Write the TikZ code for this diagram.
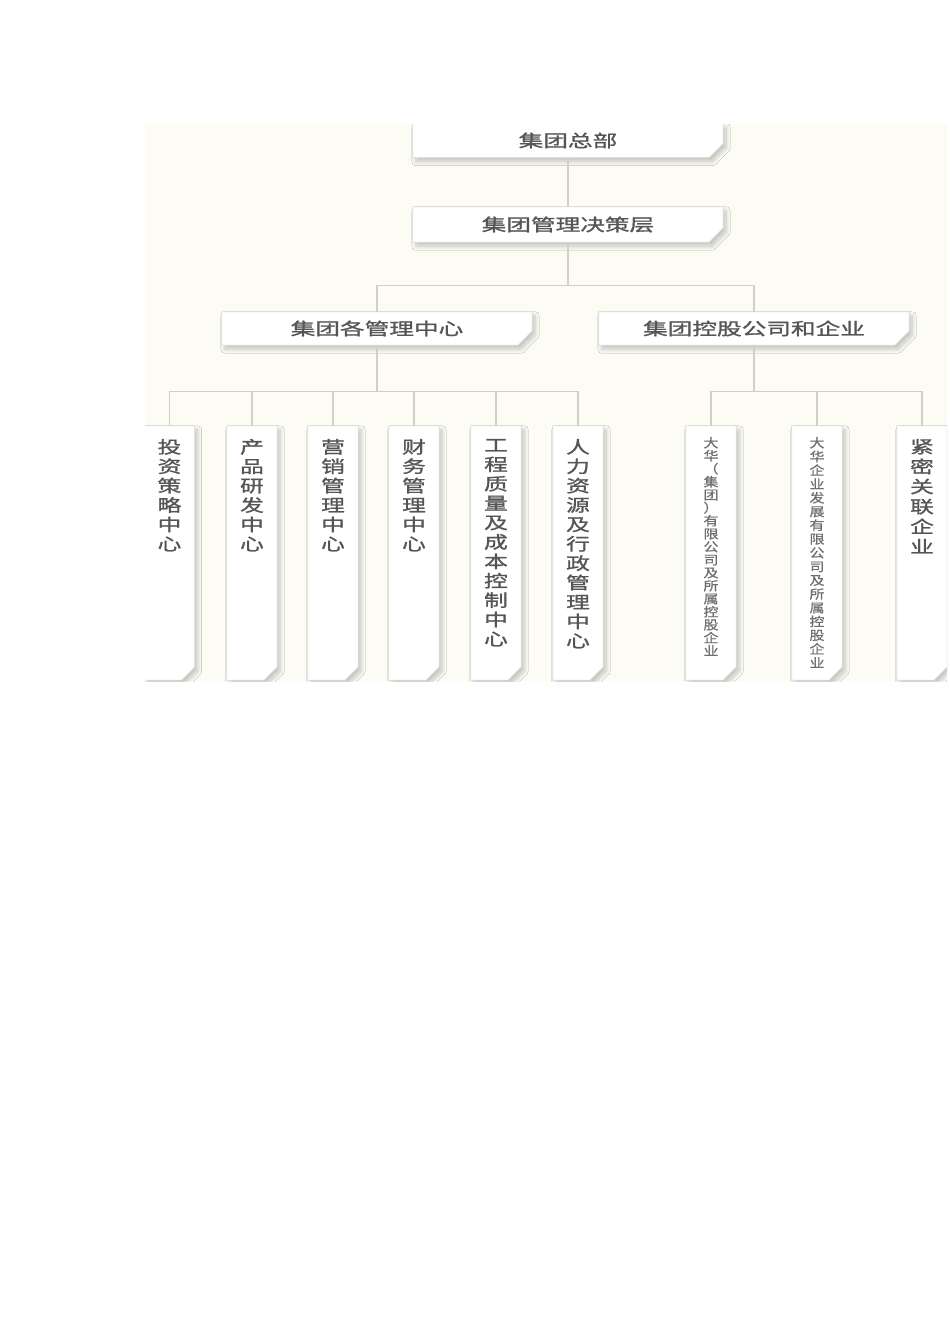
\documentclass[tikz,border=0pt]{standalone}
\usepackage{fontspec}
\newfontfamily\cjk[FakeStretch=1.45,FakeBold=1.2]{Noto Sans CJK SC}
\newfontfamily\cjkv[FakeStretch=1.4,FakeBold=1.2]{Noto Sans CJK SC}
\newfontfamily\cjks[FakeStretch=1.2,FakeBold=0.6]{Noto Sans CJK SC}
\usetikzlibrary{shadows.blur}
\pgfdeclarelayer{back}
\pgfsetlayers{back,main}
\definecolor{cream}{RGB}{252,252,245}
\definecolor{linegray}{RGB}{208,208,200}
\definecolor{bordergray}{RGB}{218,218,215}
\definecolor{txtgray}{RGB}{85,85,85}
\definecolor{txtlight}{RGB}{110,110,110}
\newcommand\vtext[2]{\begin{minipage}[c][254pt][t]{50pt}\centering\vspace*{#1}#2\par\end{minipage}}
\newcommand\cframe[2]{\path[frame] (#1.north west) -- (#1.north east) -- ([yshift=#2]#1.south east) -- ([xshift=-#2]#1.south east) -- (#1.south west) -- cycle;}
\begin{document}
\begin{tikzpicture}[x=1pt,y=-1pt,
  conn/.style={draw=linegray, line width=1.1pt},
  hbox/.style={inner sep=0pt, text=txtgray, minimum width=310pt, minimum height=34pt,
    font=\cjk\fontsize{17}{19}\selectfont},
  vbox/.style={inner sep=0pt, text=txtgray, font=\cjkv\fontsize{17}{19.4}\selectfont},
  sbox/.style={inner sep=0pt, text=txtlight, font=\cjks\fontsize{12.5}{13.75}\selectfont},
  frame/.style={fill=white, draw=bordergray, line width=0.8pt,
    blur shadow={shadow xshift=3pt, shadow yshift=-4pt, shadow opacity=22,
      shadow blur radius=4pt, shadow blur steps=14}}
]
\useasboundingbox (0,0) rectangle (950,1344);
% boxes
\node[hbox] (hq) at (568,140.5) {集团总部};
\node[hbox, minimum height=35pt] (dec) at (568,224.5) {集团管理决策层};
\node[hbox, minimum height=33pt] (mgmt) at (377,328.5) {集团各管理中心};
\node[hbox, minimum height=33pt] (hold) at (754,328.5) {集团控股公司和企业};
\node[vbox] (c1) at (169.5,553) {\vtext{13pt}{投\\资\\策\\略\\中\\心}};
\node[vbox] (c2) at (252,553) {\vtext{13pt}{产\\品\\研\\发\\中\\心}};
\node[vbox] (c3) at (333,553) {\vtext{13pt}{营\\销\\管\\理\\中\\心}};
\node[vbox] (c4) at (414,553) {\vtext{13pt}{财\\务\\管\\理\\中\\心}};
\node[vbox] (c5) at (496,553) {\vtext{13pt}{工\\程\\质\\量\\及\\成\\本\\控\\制\\中\\心}};
\node[vbox] (c6) at (578,553) {\vtext{13pt}{人\\力\\资\\源\\及\\行\\政\\管\\理\\中\\心}};
\node[sbox] (d1) at (711,553) {\vtext{11pt}{\fontsize{12.5}{13}\selectfont 大\\华\\（\\集\\团\\）\\有\\限\\公\\司\\及\\所\\属\\控\\股\\企\\业}};
\node[sbox] (d2) at (817,553) {\vtext{11pt}{大\\华\\企\\业\\发\\展\\有\\限\\公\\司\\及\\所\\属\\控\\股\\企\\业}};
\node[vbox] (d3) at (922,553) {\vtext{13pt}{\fontsize{17}{20}\selectfont 紧\\密\\关\\联\\企\\业}};
% connectors
\draw[conn] (hq) -- (dec);
\draw[conn] (dec.south) -- ++(0,43) coordinate (j1);
\draw[conn] (mgmt.north) |- (j1) -| (hold.north);
\draw[conn] (mgmt.south) -- ++(0,46) coordinate (j2);
\foreach \c in {c1,c2,c3,c4,c5,c6} \draw[conn] (j2) -| (\c.north);
\draw[conn] (hold.south) -- ++(0,46) coordinate (j3);
\foreach \c in {d1,d2,d3} \draw[conn] (j3) -| (\c.north);
% frames and background
\begin{pgfonlayer}{back}
\fill[white] (0,0) rectangle (950,1344);
\fill[cream] (145,124) rectangle (947,681);
\begin{scope}
\clip (145,124) rectangle (947,681);
\foreach \n in {hq,dec,mgmt,hold} {\cframe{\n}{14pt}}
\foreach \n in {c1,c2,c3,c4,c5,c6,d1,d2,d3} {\cframe{\n}{13pt}}
\end{scope}
\end{pgfonlayer}
\end{tikzpicture}
\end{document}
